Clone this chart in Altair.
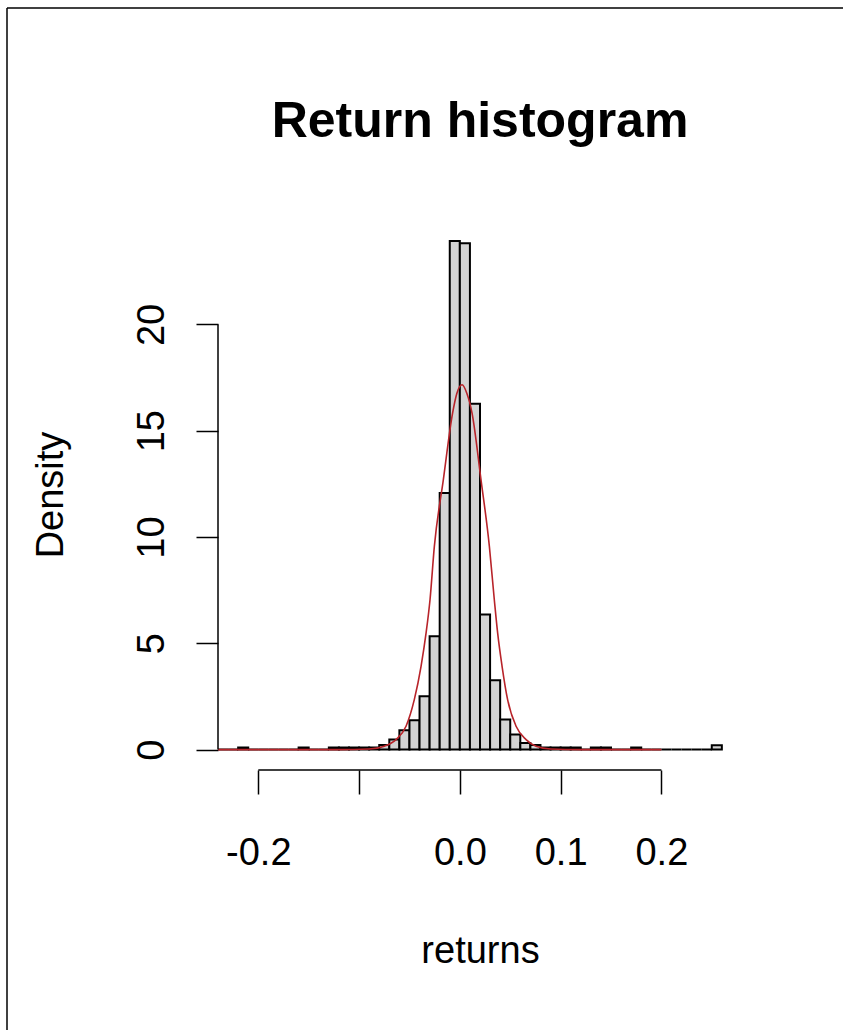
import altair as alt
import pandas as pd

# ---------------- data ----------------
title_text = "Return histogram"
x_title = "returns"
y_title = "Density"

bin_starts = [-0.24, -0.23, -0.22, -0.21, -0.20, -0.19, -0.18, -0.17, -0.16, -0.15,
              -0.14, -0.13, -0.12, -0.11, -0.10, -0.09, -0.08, -0.07, -0.06, -0.05,
              -0.04, -0.03, -0.02, -0.01, 0.00, 0.01, 0.02, 0.03, 0.04, 0.05,
              0.06, 0.07, 0.08, 0.09, 0.10, 0.11, 0.12, 0.13, 0.14, 0.15,
              0.16, 0.17, 0.18, 0.19, 0.20, 0.21, 0.22, 0.23, 0.24, 0.25]
bin_width = 0.01
densities = [0, 0, 0.1, 0, 0, 0, 0, 0, 0.1, 0,
             0, 0.1, 0.1, 0.1, 0.1, 0.1, 0.22, 0.47, 0.91, 1.38,
             2.51, 5.33, 12.07, 23.93, 23.82, 16.27, 6.35, 3.26, 1.41, 0.71,
             0.31, 0.22, 0.1, 0.1, 0.1, 0.1, 0, 0.1, 0.1, 0,
             0, 0.1, 0, 0, 0, 0, 0, 0, 0, 0.2]

curve_x = [-0.24, -0.12, -0.09, -0.0749, -0.0633, -0.0534, -0.0452, -0.0385, -0.0335,
           -0.0296, -0.0253, -0.0164, -0.0072, -0.003, 0.0022, 0.007, 0.0121, 0.0210,
           0.0293, 0.0342, 0.0375, 0.0419, 0.0474, 0.0558, 0.0657, 0.0756, 0.09, 0.12, 0.20]
curve_y = [0.0, 0.0, 0.03, 0.16, 0.47, 1.10, 2.35, 3.92, 5.49,
           7.05, 9.56, 12.69, 15.83, 16.75, 17.16, 16.75, 15.83, 12.69,
           9.56, 7.05, 5.49, 3.92, 2.35, 1.10, 0.47, 0.16, 0.03, 0.0, 0.0]

x_tick_values = [-0.2, -0.1, 0.0, 0.1, 0.2]
x_tick_labels = ["-0.2", "", "0.0", "0.1", "0.2"]
y_tick_values = [0, 5, 10, 15, 20]

# ---------------- tables ----------------
bins_df = pd.DataFrame({
    "x0": bin_starts,
    "x1": [s + bin_width for s in bin_starts],
    "y0": [0.0] * len(bin_starts),
    "d": densities,
})
curve_df = pd.DataFrame({"x": curve_x, "y": curve_y})
xline_df = pd.DataFrame({"a": [x_tick_values[0]], "b": [x_tick_values[-1]]})
yline_df = pd.DataFrame({"a": [y_tick_values[0]], "b": [y_tick_values[-1]]})
title_df = pd.DataFrame({"t": [title_text]})
one_df = pd.DataFrame({"k": [0]})

FONT = "Liberation Sans"
W, H = 524, 551

xscale = alt.Scale(domain=[-0.24, 0.28], nice=False, zero=False)
yscale = alt.Scale(domain=[-0.96, 24.96], nice=False, zero=False)

label_expr = " : ".join(
    f"datum.value == {v} ? '{l}'" for v, l in zip(x_tick_values, x_tick_labels)
) + " : ''"

xaxis = alt.Axis(
    values=x_tick_values, labelExpr=label_expr, domain=False, grid=False,
    ticks=True, tickSize=24, tickWidth=1.5, tickColor="black",
    labelFont=FONT, labelFontSize=38, labelColor="black",
    labelBaseline="alphabetic", labelPadding=70, labelOverlap=False, labelFlush=False,
    title=x_title, titleFont=FONT, titleFontSize=38, titleFontWeight="normal",
    titleColor="black", titleX=W / 2, titleY=192, titleBaseline="alphabetic",
    titleAlign="center",
)
yaxis = alt.Axis(
    values=y_tick_values, domain=False, grid=False,
    ticks=True, tickSize=22, tickWidth=1.5, tickColor="black",
    labelFont=FONT, labelFontSize=38, labelColor="black",
    labelAngle=270, labelAlign="center", labelBaseline="alphabetic",
    labelPadding=33, labelOverlap=False, labelFlush=False,
    title=y_title, titleFont=FONT, titleFontSize=38, titleFontWeight="normal",
    titleColor="black", titleAngle=270, titleX=-156, titleY=H / 2,
    titleBaseline="alphabetic", titleAlign="center",
)

bars = alt.Chart(bins_df).mark_rect(
    fill="#D3D3D3", stroke="black", strokeWidth=2
).encode(
    x=alt.X("x0:Q", scale=xscale, axis=xaxis),
    x2="x1:Q",
    y=alt.Y("y0:Q", scale=yscale, axis=yaxis),
    y2="d:Q",
)

curve = alt.Chart(curve_df).mark_line(
    color="#B8242A", strokeWidth=1.6, interpolate="monotone"
).encode(
    x=alt.X("x:Q", scale=xscale, axis=xaxis),
    y=alt.Y("y:Q", scale=yscale, axis=yaxis),
)

xline = alt.Chart(xline_df).mark_rule(color="black", strokeWidth=1.5).encode(
    x=alt.X("a:Q", scale=xscale, axis=xaxis), x2="b:Q", y=alt.value(H)
)
yline = alt.Chart(yline_df).mark_rule(color="black", strokeWidth=1.5).encode(
    y=alt.Y("a:Q", scale=yscale, axis=yaxis), y2="b:Q", x=alt.value(0)
)

title = alt.Chart(title_df).mark_text(
    font=FONT, fontSize=50, fontWeight="bold", color="black",
    align="center", baseline="alphabetic"
).encode(text="t:N", x=alt.value(W / 2 + 0), y=alt.value(-82))

# decorative frame (top and left edges of the reference image)
frame_top = alt.Chart(one_df).mark_rule(color="black", strokeWidth=1.5).encode(
    x=alt.value(-211), x2=alt.value(625), y=alt.value(-211)
)
frame_left = alt.Chart(one_df).mark_rule(color="black", strokeWidth=1.5).encode(
    x=alt.value(-211), y=alt.value(-211), y2=alt.value(811)
)

chart = alt.layer(bars, curve, xline, yline, title, frame_top, frame_left).properties(
    width=W, height=H,
    padding={"left": 218, "top": 219, "right": 101, "bottom": 260},
    autosize=alt.AutoSizeParams(type="none"),
).configure(background="white").configure_view(strokeWidth=0, stroke="transparent")

chart.save("out.html", embed_options={"renderer": "svg", "actions": False})
